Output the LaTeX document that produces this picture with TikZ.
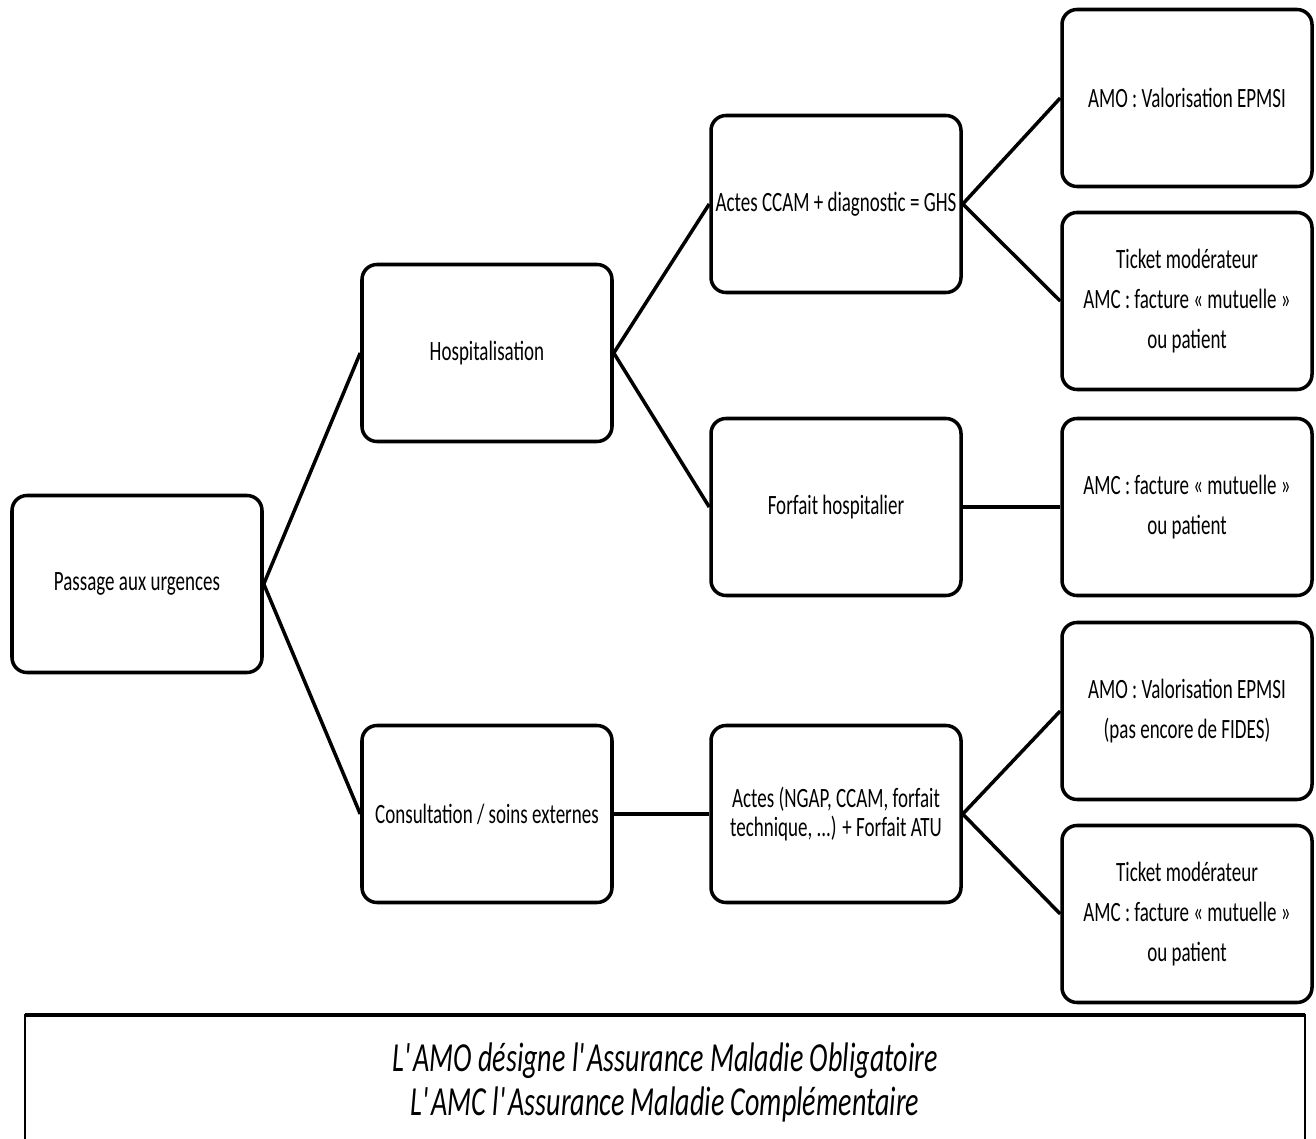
\documentclass[tikz,border=0pt]{standalone}
\usepackage{fontspec}
\setmainfont{Carlito}[FakeStretch=0.68]
\usetikzlibrary{positioning}
\tikzset{
  every picture/.style={line width=2pt},
  box/.style={draw=black, fill=white, rounded corners=0.3cm, align=center, inner sep=2pt,
    minimum width=5cm, minimum height=3.54cm, font=\fontsize{15.9}{23}\selectfont},
  link/.style={draw=black, line width=2pt},
  legend/.style={font=\fontsize{23.5}{24.5}\selectfont\itshape, align=center},
}

\begin{document}
\begin{tikzpicture}
  \useasboundingbox (0,0) rectangle (26.32,-22.78);
  % root and first split
  \node[box] (pass) at (2.74,-11.68) {Passage aux urgences};
  \node[box] (hosp) at (9.74,-7.06) {Hospitalisation};
  \node[box] (cons) at (9.74,-16.28) {Consultation / soins externes};
  \draw[link] (pass.east) -- (hosp.west);
  \draw[link] (pass.east) -- (cons.west);
  % hospitalisation
  \node[box] (ghs) at (16.72,-4.08) {Actes CCAM + diagnostic = GHS};
  \node[box] (forf) at (16.72,-10.14) {Forfait hospitalier};
  \draw[link] (hosp.east) -- (ghs.west);
  \draw[link] (hosp.east) -- (forf.west);
  % consultation
  \node[box, font=\fontsize{15.9}{16.5}\selectfont] (atu) at (16.72,-16.28) {Actes (NGAP, CCAM, forfait\\technique, ...) + Forfait ATU};
  \draw[link] (cons.east) -- (atu.west);
  % payers
  \node[box] (amo1) at (23.74,-1.96) {AMO : Valorisation EPMSI};
  \node[box] (tm1) at (23.74,-6.02) {Ticket modérateur\\AMC : facture «~mutuelle~»\\ou patient};
  \node[box] (amc) at (23.74,-10.14) {AMC : facture «~mutuelle~»\\ou patient};
  \node[box] (amo2) at (23.74,-14.22) {AMO : Valorisation EPMSI\\(pas encore de FIDES)};
  \node[box] (tm2) at (23.74,-18.28) {Ticket modérateur\\AMC : facture «~mutuelle~»\\ou patient};
  \foreach \a/\b in {ghs/amo1, ghs/tm1, forf/amc, atu/amo2, atu/tm2}
    \draw[link] (\a.east) -- (\b.west);
  % legend
  \node[legend] (note) at (13.3,-21.65) {L\textquotesingle AMO désigne l\textquotesingle Assurance Maladie Obligatoire\\L\textquotesingle AMC l\textquotesingle Assurance Maladie Complémentaire};
  \draw[line width=1.5pt] (0.5,-23.4) -- (0.5,-20.3) -- (26.1,-20.3) -- (26.1,-23.4);
  \draw[line width=2.5pt] (0.5,-20.3) -- (26.1,-20.3);
\end{tikzpicture}
\end{document}
